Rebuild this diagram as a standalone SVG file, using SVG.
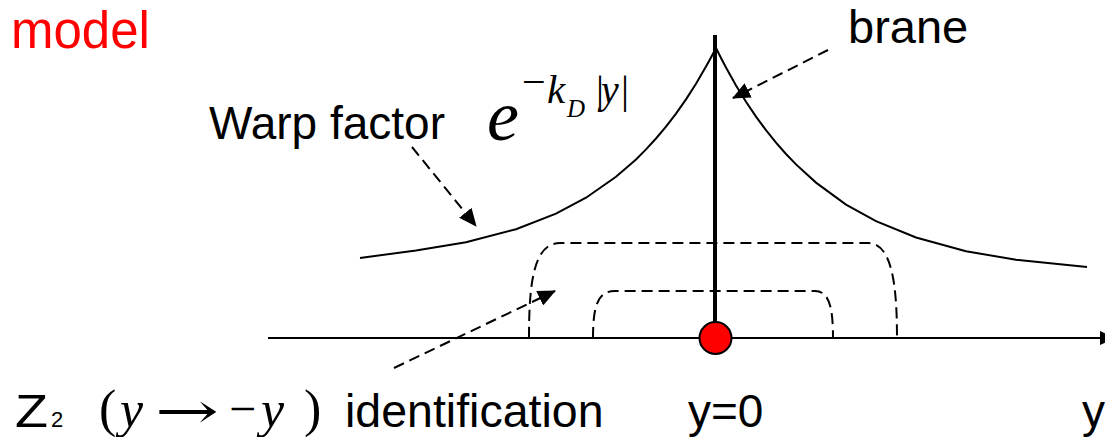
<svg xmlns="http://www.w3.org/2000/svg" width="1105" height="437" viewBox="0 0 1105 437">
<style>
.sans{font-family:"Liberation Sans",Arial,sans-serif;fill:#000}
.serif{font-family:"Liberation Serif","Times New Roman",serif;fill:#000}
.it{font-style:italic}
.solid{fill:none;stroke:#000;stroke-width:2}
.dash{fill:none;stroke:#000;stroke-width:2;stroke-dasharray:11 6}
</style>
<defs>
<marker id="ah" markerUnits="userSpaceOnUse" markerWidth="18" markerHeight="16" viewBox="0 0 18 16" refX="17" refY="8" orient="auto">
<path d="M0,0 L18,8 L0,16 Z" fill="#000"/>
</marker>
</defs>
<rect width="1105" height="437" fill="#fff"/>
<g id="axis">
<line x1="268" y1="338" x2="1102" y2="338" stroke="#000" stroke-width="2"/>
<polygon points="1100,331 1116,338 1100,345" fill="#000"/>
</g>
<g id="warp-curve">
<path class="solid" d="M360,258 L416,250.4 L466,242.2 L516,229.2 L556,213.6 L586,197.7 L616,176.8 L636,159.4 L646,149.4 L656,138.5 L666,126.6 L676,113.6 L686,99.4 L696,83.7 L706,66.6 L711,57.5 L716,48 L721,58 L726,67.5 L736,85.4 L746,101.8 L756,116.6 L766,130.2 L776,142.7 L786,154 L796,164.4 L816,182.6 L846,204.6 L876,221.2 L916,237.5 L966,251.2 L1016,259.8 L1087,267"/>
</g>
<g id="identification-arcs">
<path class="dash" d="M529,338 C529,285 533,243 560,243 L868,243 C892,243 897,285 897,338"/>
<path class="dash" d="M593,338 C593,305 598,291 615,291 L815,291 C830,291 833,310 833,338"/>
</g>
<g id="brane">
<line x1="715" y1="35" x2="715" y2="338" stroke="#000" stroke-width="4"/>
<circle cx="715.5" cy="338" r="16" fill="#f00" stroke="#000" stroke-width="2"/>
</g>
<g id="connectors">
<line class="dash" x1="828" y1="50" x2="733" y2="98" marker-end="url(#ah)"/>
<line class="dash" x1="412" y1="147" x2="476" y2="226" marker-end="url(#ah)"/>
<line class="dash" x1="394" y1="368" x2="555" y2="291" marker-end="url(#ah)"/>
</g>
<g id="labels">
<text class="sans" x="11" y="48" font-size="51" style="fill:#f00">model</text>
<text class="sans" x="848" y="43" font-size="47">brane</text>
<text class="sans" x="209" y="139" font-size="46">Warp factor</text>
<text class="serif it" x="487" y="140" font-size="72">e</text>
<text class="serif" x="522" y="96" font-size="42">−</text>
<text class="serif it" x="547" y="103" font-size="41">k</text>
<text class="serif it" x="567" y="117" font-size="25">D</text>
<text class="serif" font-size="40"><tspan x="596" y="103">|</tspan><tspan class="it" x="601" y="103">y</tspan><tspan x="621" y="103">|</tspan></text>
<text class="sans" x="15" y="427" font-size="47" textLength="33" lengthAdjust="spacingAndGlyphs">Z</text>
<text class="sans" x="51" y="427" font-size="22">2</text>
<text class="serif" x="99" y="426" font-size="52">(</text>
<text class="serif it" x="120" y="427" font-size="52">y</text>
<text x="155" y="428" font-size="50" textLength="64" lengthAdjust="spacingAndGlyphs" style="font-family:'DejaVu Serif','DejaVu Sans',serif">→</text>
<text class="serif" x="229" y="425" font-size="48">−</text>
<text class="serif it" x="261" y="427" font-size="52">y</text>
<text class="serif" x="304" y="426" font-size="52">)</text>
<text class="sans" x="345" y="427" font-size="46.5">identification</text>
<text class="sans" x="688" y="427" font-size="46">y=0</text>
<text class="sans" x="1082" y="427" font-size="46">y</text>
</g>
</svg>
